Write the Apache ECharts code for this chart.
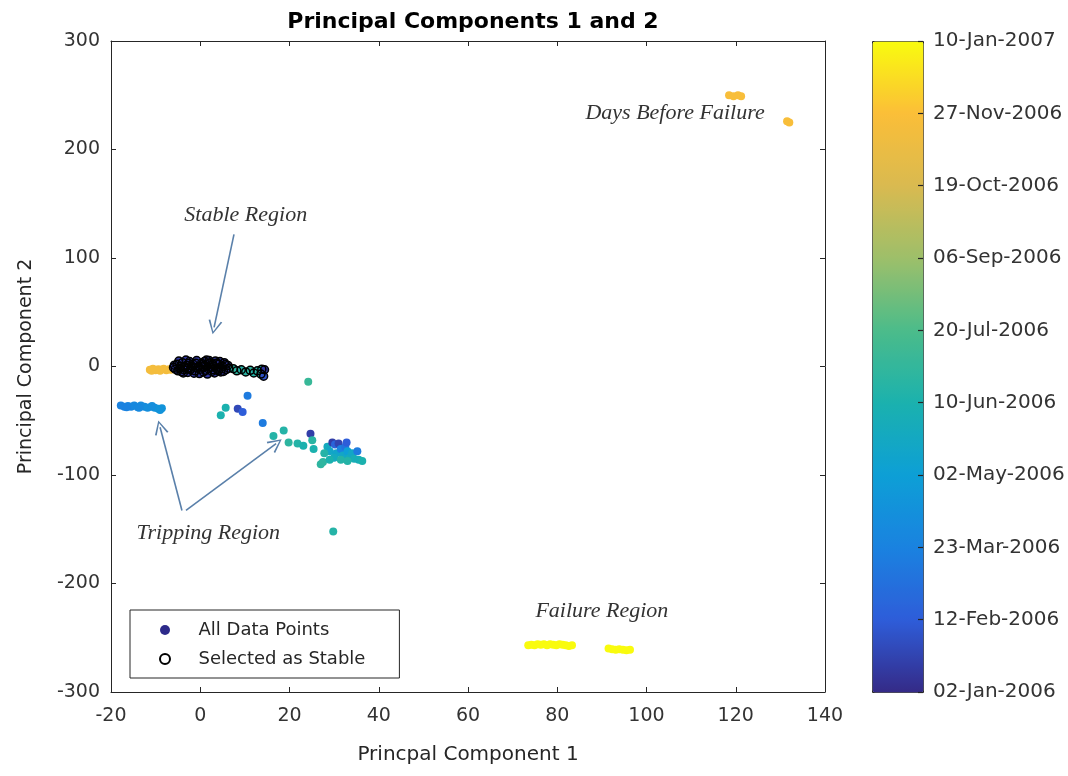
<!DOCTYPE html>
<html><head><meta charset="utf-8">
<script src="https://cdn.jsdelivr.net/npm/echarts@6/dist/echarts.min.js"></script>
<style>html,body{margin:0;padding:0;background:#fff}#c{width:1068px;height:776px}</style>
</head><body><div id="c"></div><script>
// colorbar tick labels (bottom to top)
const colorbarLabels = ['02-Jan-2006','12-Feb-2006','23-Mar-2006','02-May-2006','10-Jun-2006','20-Jul-2006','06-Sep-2006','19-Oct-2006','27-Nov-2006','10-Jan-2007'];
// points: [PC1, PC2, colour position on colorbar (0..9)]
const stablePoints = [
  [-6,-1,0.3],[-5.2,2,0.3],[-5,-4,0.3],[-4.4,0,0.3],[-4,3.5,0.3],[-3.6,-3,0.3],[-3,1,0.3],[-2.8,-5.5,0.3],
  [-2.4,4.5,0.3],[-2,-1.5,0.3],[-1.6,2,0.3],[-1.2,-4,0.3],[-0.8,5.5,0.3],[-0.4,0,0.3],[0,-2.5,0.3],[0.3,3,0.3],
  [0.7,-5,0.3],[1,1,0.3],[1.4,6,0.3],[1.8,-2,0.3],[2.2,3.5,0.3],[2.6,-4.5,0.3],[3,0.5,0.3],[3.4,5,0.3],
  [3.8,-2.5,0.3],[4.2,2,0.3],[4.6,-5,0.3],[5,0,0.3],[5.4,3.5,0.3],[5.8,-3,0.3],[6.2,1,0.3],[-5.6,-2.5,0.3],
  [-4.8,5,0.3],[-3.2,6,0.3],[-2.2,-3,0.3],[-1,3,0.3],[0.6,-0.5,0.3],[2,5.5,0.3],[3.2,-6,0.3],[4.4,4.5,0.3],
  [-0.2,-6.5,0.3],[1.6,-7,0.3],[-3.8,-6,0.3],[6.4,-1.5,0.3],[2.8,2,0.3],
  [-5.8,1.2,0.3],[-4.6,-1.8,0.3],[-3.4,-0.5,0.3],[-2.6,2.8,0.3],[-1.8,0.2,0.3],[-0.6,-1.5,0.3],[0.4,1.5,0.3],
  [1.2,-3.5,0.3],[2.4,-0.8,0.3],[3.6,3,0.3],[4.8,-2,0.3],[5.6,1.8,0.3],[-1.4,-6.2,0.3],[0.9,4.5,0.3],
  [-4.2,-4.8,0.3],[4,-4,0.3],[1.8,2.5,0.3],[-2.9,-2,0.3],[2.9,-3,0.3],[5.2,-4.6,0.3],
  [7.4,-2,4.3],[8.2,-4,4.4],[9.2,-3,4.2],[10.2,-5,4.3],[11.2,-3.5,4.4],[12,-6,4.2],[12.8,-4,4.3],[13.6,-7,4.1],
  [13.8,-2.5,4.0],[14.4,-3,0.3],[14.2,-9,0.8]
];
const orangeNearStable = [
  [-11.3,-3,7.8],[-10.6,-2,7.8],[-10,-3.5,7.8],[-9.4,-2.5,7.8],[-8.8,-3,7.8],[-8.2,-2,7.8],
  [-7.6,-3.5,7.8],[-7,-2.5,7.8],[-10.9,-4,7.8],[-9,-4,7.8],[-6.6,-3,7.8]
];
const trippingLeft = [
  [-17.8,-36,2.0],[-17,-37,2.0],[-16.2,-36.5,2.1],[-15.5,-37,2.1],[-14.8,-36,2.2],[-14,-37.5,2.2],
  [-13.3,-36,2.3],[-12.5,-37,2.3],[-11.8,-38,2.4],[-11,-37,2.4],[-10.2,-38,2.5],[-9.4,-39,2.6],
  [-8.6,-38.5,2.6],[-16.5,-37.5,2.0],[-13.7,-38,2.2],[-10.8,-36.5,2.4],[-9,-40,2.6]
];
const trippingScatter = [
  [10.6,-27,1.8],[5.7,-38,4.0],[4.6,-45,4.0],[8.4,-39,0.6],[9.5,-42,1.0],[14,-52,1.8],[16.4,-64,4.2],
  [18.7,-59,4.2],[19.8,-70,4.4],[21.8,-71,4.2],[23.1,-73,4.0],[24.7,-62,0.4],[25.1,-68,4.3],[25.4,-76,4.0],
  [24.2,-14,4.6],[27,-90,4.4],[27.5,-88,4.4],[29.8,-152,4.2],
  [28.5,-74,3.6],[29,-78,3.4],[29.6,-70,0.4],[30.2,-72,1.2],[30.5,-80,3.3],[31,-71,0.5],[31.5,-76,2.0],
  [32,-82,3.4],[32.5,-74,1.6],[33,-78,3.0],[33.5,-84,3.6],[34,-80,3.4],[34.5,-85,3.8],[35.2,-78,1.8],
  [35.5,-86,3.8],[36.3,-87,4.0],[30,-84,3.6],[31.5,-86,4.2],[33,-87,4.2],[29,-86,4.0],[32.8,-70,1.0],[27.8,-80,4.2]
];
const daysBeforeFailure = [
  [118.5,250,7.9],[119.5,249,7.9],[120.5,250,7.9],[121.2,249,7.9],[131.5,226,7.9],[132,225,7.9]
];
const failureRegion = [
  [73.5,-257,9],[74.2,-256.5,9],[74.9,-257,9],[75.6,-256,9],[76.3,-256.5,9],[77,-256,9],[77.7,-257,9],
  [78.4,-256,9],[79.1,-256.5,9],[79.8,-257,9],[80.5,-256,9],[81.2,-256.5,9],[81.9,-257,9],[82.6,-257.5,9],
  [83.3,-257,9],[91.5,-260,9],[92.3,-260.5,9],[93.1,-261,9],[93.9,-260.5,9],[94.7,-261,9],[95.5,-261.5,9],[96.3,-261,9]
];
// annotations: [text, PC1, PC2]
const annotationTexts = [
  ['Stable Region',10.2,139],['Tripping Region',1.8,-154],['Days Before Failure',106.4,233],['Failure Region',90,-226]
];
// arrows: [fromPC1, fromPC2, toPC1, toPC2]
const annotationArrows = [
  [7.56,121.7,3.1,36],[-4.1,-132.7,-9.0,-56],[-3.2,-132.7,17.0,-71]
];

const parula = ['#352a87','#2e5dd9','#1a82e0','#0d9fd6','#1bb1ae','#4bbc8a','#9dbf6a','#d9ba50','#fbbe38','#f9fb0e'];
const allPoints = [].concat(orangeNearStable, trippingLeft, trippingScatter, daysBeforeFailure, failureRegion, stablePoints);
const FONT = 'DejaVu Sans';
const axisCol = '#262626';
const chevron = 'path://M5,0 L10,14 L8.8,14.6 L5,3 L1.2,14.6 L0,14 Z';

const chart = echarts.init(document.getElementById('c'));
const boxAxis = (pos, extra) => Object.assign({
  position: pos, axisLine: {show: true, onZero: false, lineStyle: {color: axisCol, width: 1}},
  axisTick: {show: true, inside: true, length: 5, lineStyle: {color: axisCol}},
  splitLine: {show: false}
}, extra);

chart.setOption({
  animation: false,
  backgroundColor: '#fff',
  title: {text: 'Principal Components 1 and 2', left: 468, top: 6, textAlign: 'center',
    textStyle: {fontFamily: FONT, fontWeight: 'bold', fontSize: 22, color: '#000'}},
  grid: [
    {left: 111, top: 41, width: 714, height: 651},
    {left: 872, top: 41, width: 51, height: 651}
  ],
  xAxis: [
    boxAxis('bottom', {type: 'value', gridIndex: 0, min: -20, max: 140, interval: 20,
      name: 'Princpal Component 1', nameLocation: 'middle', nameGap: 53,
      nameTextStyle: {fontFamily: FONT, fontSize: 20, color: axisCol},
      axisLabel: {fontFamily: FONT, fontSize: 19, color: '#333', margin: 15}}),
    boxAxis('top', {type: 'value', gridIndex: 0, min: -20, max: 140, interval: 20, axisLabel: {show: false}}),
    {type: 'value', gridIndex: 1, min: 0, max: 1, show: false}
  ],
  yAxis: [
    boxAxis('left', {type: 'value', gridIndex: 0, min: -300, max: 300, interval: 100,
      name: 'Principal Component 2', nameLocation: 'middle', nameGap: 75,
      nameTextStyle: {fontFamily: FONT, fontSize: 19, color: axisCol},
      axisLabel: {fontFamily: FONT, fontSize: 19, color: '#333', margin: 11}}),
    boxAxis('right', {type: 'value', gridIndex: 0, min: -300, max: 300, interval: 100, axisLabel: {show: false}}),
    {type: 'value', gridIndex: 1, min: 0, max: 9, interval: 1, position: 'right', z: 10,
      axisLine: {show: false, onZero: false},
      axisTick: {show: true, inside: true, length: 5, lineStyle: {color: axisCol, width: 1.2}},
      axisLabel: {fontFamily: FONT, fontSize: 20, color: '#333', margin: 10,
        formatter: v => colorbarLabels[Math.round(v)]},
      splitLine: {show: false}}
  ],
  visualMap: {
    type: 'continuous', min: 0, max: 9, dimension: 2, seriesIndex: 0, z: 1,
    inRange: {color: parula}, show: true, calculable: false, hoverLink: false,
    left: 872, top: 41, itemWidth: 51, itemHeight: 651, padding: 0, text: null,
    borderColor: axisCol, borderWidth: 1
  },
  legend: {
    left: 130, top: 610, orient: 'vertical',
    data: ['All Data Points', 'Selected as Stable'],
    backgroundColor: '#fff', borderColor: axisCol, borderWidth: 1,
    padding: [11, 34, 10, 29], itemWidth: 57, itemHeight: 10, itemGap: 11,
    textStyle: {fontFamily: FONT, fontSize: 18, color: axisCol, lineHeight: 15},
    selectedMode: false
  },
  series: [
    {name: 'All Data Points', type: 'scatter', xAxisIndex: 0, yAxisIndex: 0, data: allPoints,
      symbol: 'circle', symbolSize: 8, itemStyle: {color: '#2d2a8a', opacity: 1}, z: 2},
    {name: 'Selected as Stable', type: 'scatter', xAxisIndex: 0, yAxisIndex: 0,
      data: stablePoints.map(p => [p[0], p[1]]),
      symbol: 'circle', symbolSize: 8,
      itemStyle: {color: 'rgba(0,0,0,0)', borderColor: '#000', borderWidth: 1.5, opacity: 1}, z: 3},
    {name: 'annotations', type: 'scatter', xAxisIndex: 0, yAxisIndex: 0, data: [], silent: true, z: 4,
      markLine: {silent: true, symbol: ['none', chevron], symbolSize: 14,
        lineStyle: {color: '#5a80aa', width: 1.6, type: 'solid'}, label: {show: false},
        data: annotationArrows.map(a => [{coord: [a[0], a[1]]}, {coord: [a[2], a[3]]}])},
      markPoint: {silent: true, symbol: 'circle', symbolSize: 0,
        label: {show: true, position: 'inside', formatter: '{b}', fontFamily: 'Liberation Serif',
          fontStyle: 'italic', fontSize: 22, color: '#333'},
        data: annotationTexts.map(t => ({name: t[0], coord: [t[1], t[2]]}))}}
  ]
});
</script></body></html>
